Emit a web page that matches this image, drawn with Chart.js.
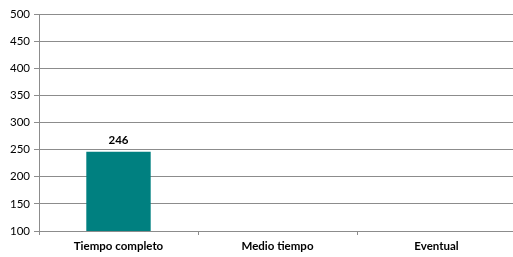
<!DOCTYPE html>
<html><head><meta charset="utf-8">
<script src="https://cdn.jsdelivr.net/npm/chart.js@4"></script>
<style>html,body{margin:0;padding:0;background:#fff;overflow:hidden}#w{width:516px;height:257px}</style>
</head><body><div id="w"><canvas id="c"></canvas></div>
<script>
const categories = ["Tiempo completo", "Medio tiempo", "Eventual"];
const values = [246, null, null];
const yTicks = [100, 150, 200, 250, 300, 350, 400, 450, 500];

const labelPlugin = {
  id: 'vlabels',
  afterDatasetsDraw(chart) {
    const ctx = chart.ctx;
    const meta = chart.getDatasetMeta(0);
    ctx.save();
    ctx.font = 'bold 11.5px Lato, "Open Sans", sans-serif';
    ctx.fillStyle = '#000';
    ctx.textAlign = 'center';
    ctx.textBaseline = 'bottom';
    meta.data.forEach((el, i) => {
      const v = values[i];
      if (v == null || v < yTicks[0]) return;
      ctx.fillText(String(v), el.x, el.y - 6);
    });
    ctx.restore();
  }
};

new Chart(document.getElementById('c'), {
  type: 'bar',
  data: { labels: categories, datasets: [{ data: values, backgroundColor: '#008080', barPercentage: 0.81, categoryPercentage: 0.5 }] },
  options: {
    responsive: true, maintainAspectRatio: false, animation: false,
    layout: { padding: { top: 14, right: 0, left: 0, bottom: 0 } },
    plugins: { legend: { display: false }, tooltip: { enabled: false } },
    scales: {
      x: {
        grid: { display: true, drawOnChartArea: false, drawTicks: true, tickLength: 4, color: '#8c8c8c' },
        border: { color: '#8c8c8c' },
        ticks: { color: '#000', font: { family: 'Lato, "Open Sans", sans-serif', size: 11.5, weight: 'bold' }, padding: 4 },
        afterFit(s) { s.height = 26; }
      },
      y: {
        min: yTicks[0], max: yTicks[yTicks.length - 1],
        afterBuildTicks(s) { s.ticks = yTicks.map(v => ({ value: v })); },
        grid: { color: '#8c8c8c', tickLength: 5 },
        border: { color: '#8c8c8c' },
        ticks: { color: '#000', font: { family: 'Lato, "Open Sans", sans-serif', size: 11.5 }, padding: 4 },
        afterFit(s) { s.width = 39; }
      }
    }
  },
  plugins: [labelPlugin]
});
</script></body></html>
